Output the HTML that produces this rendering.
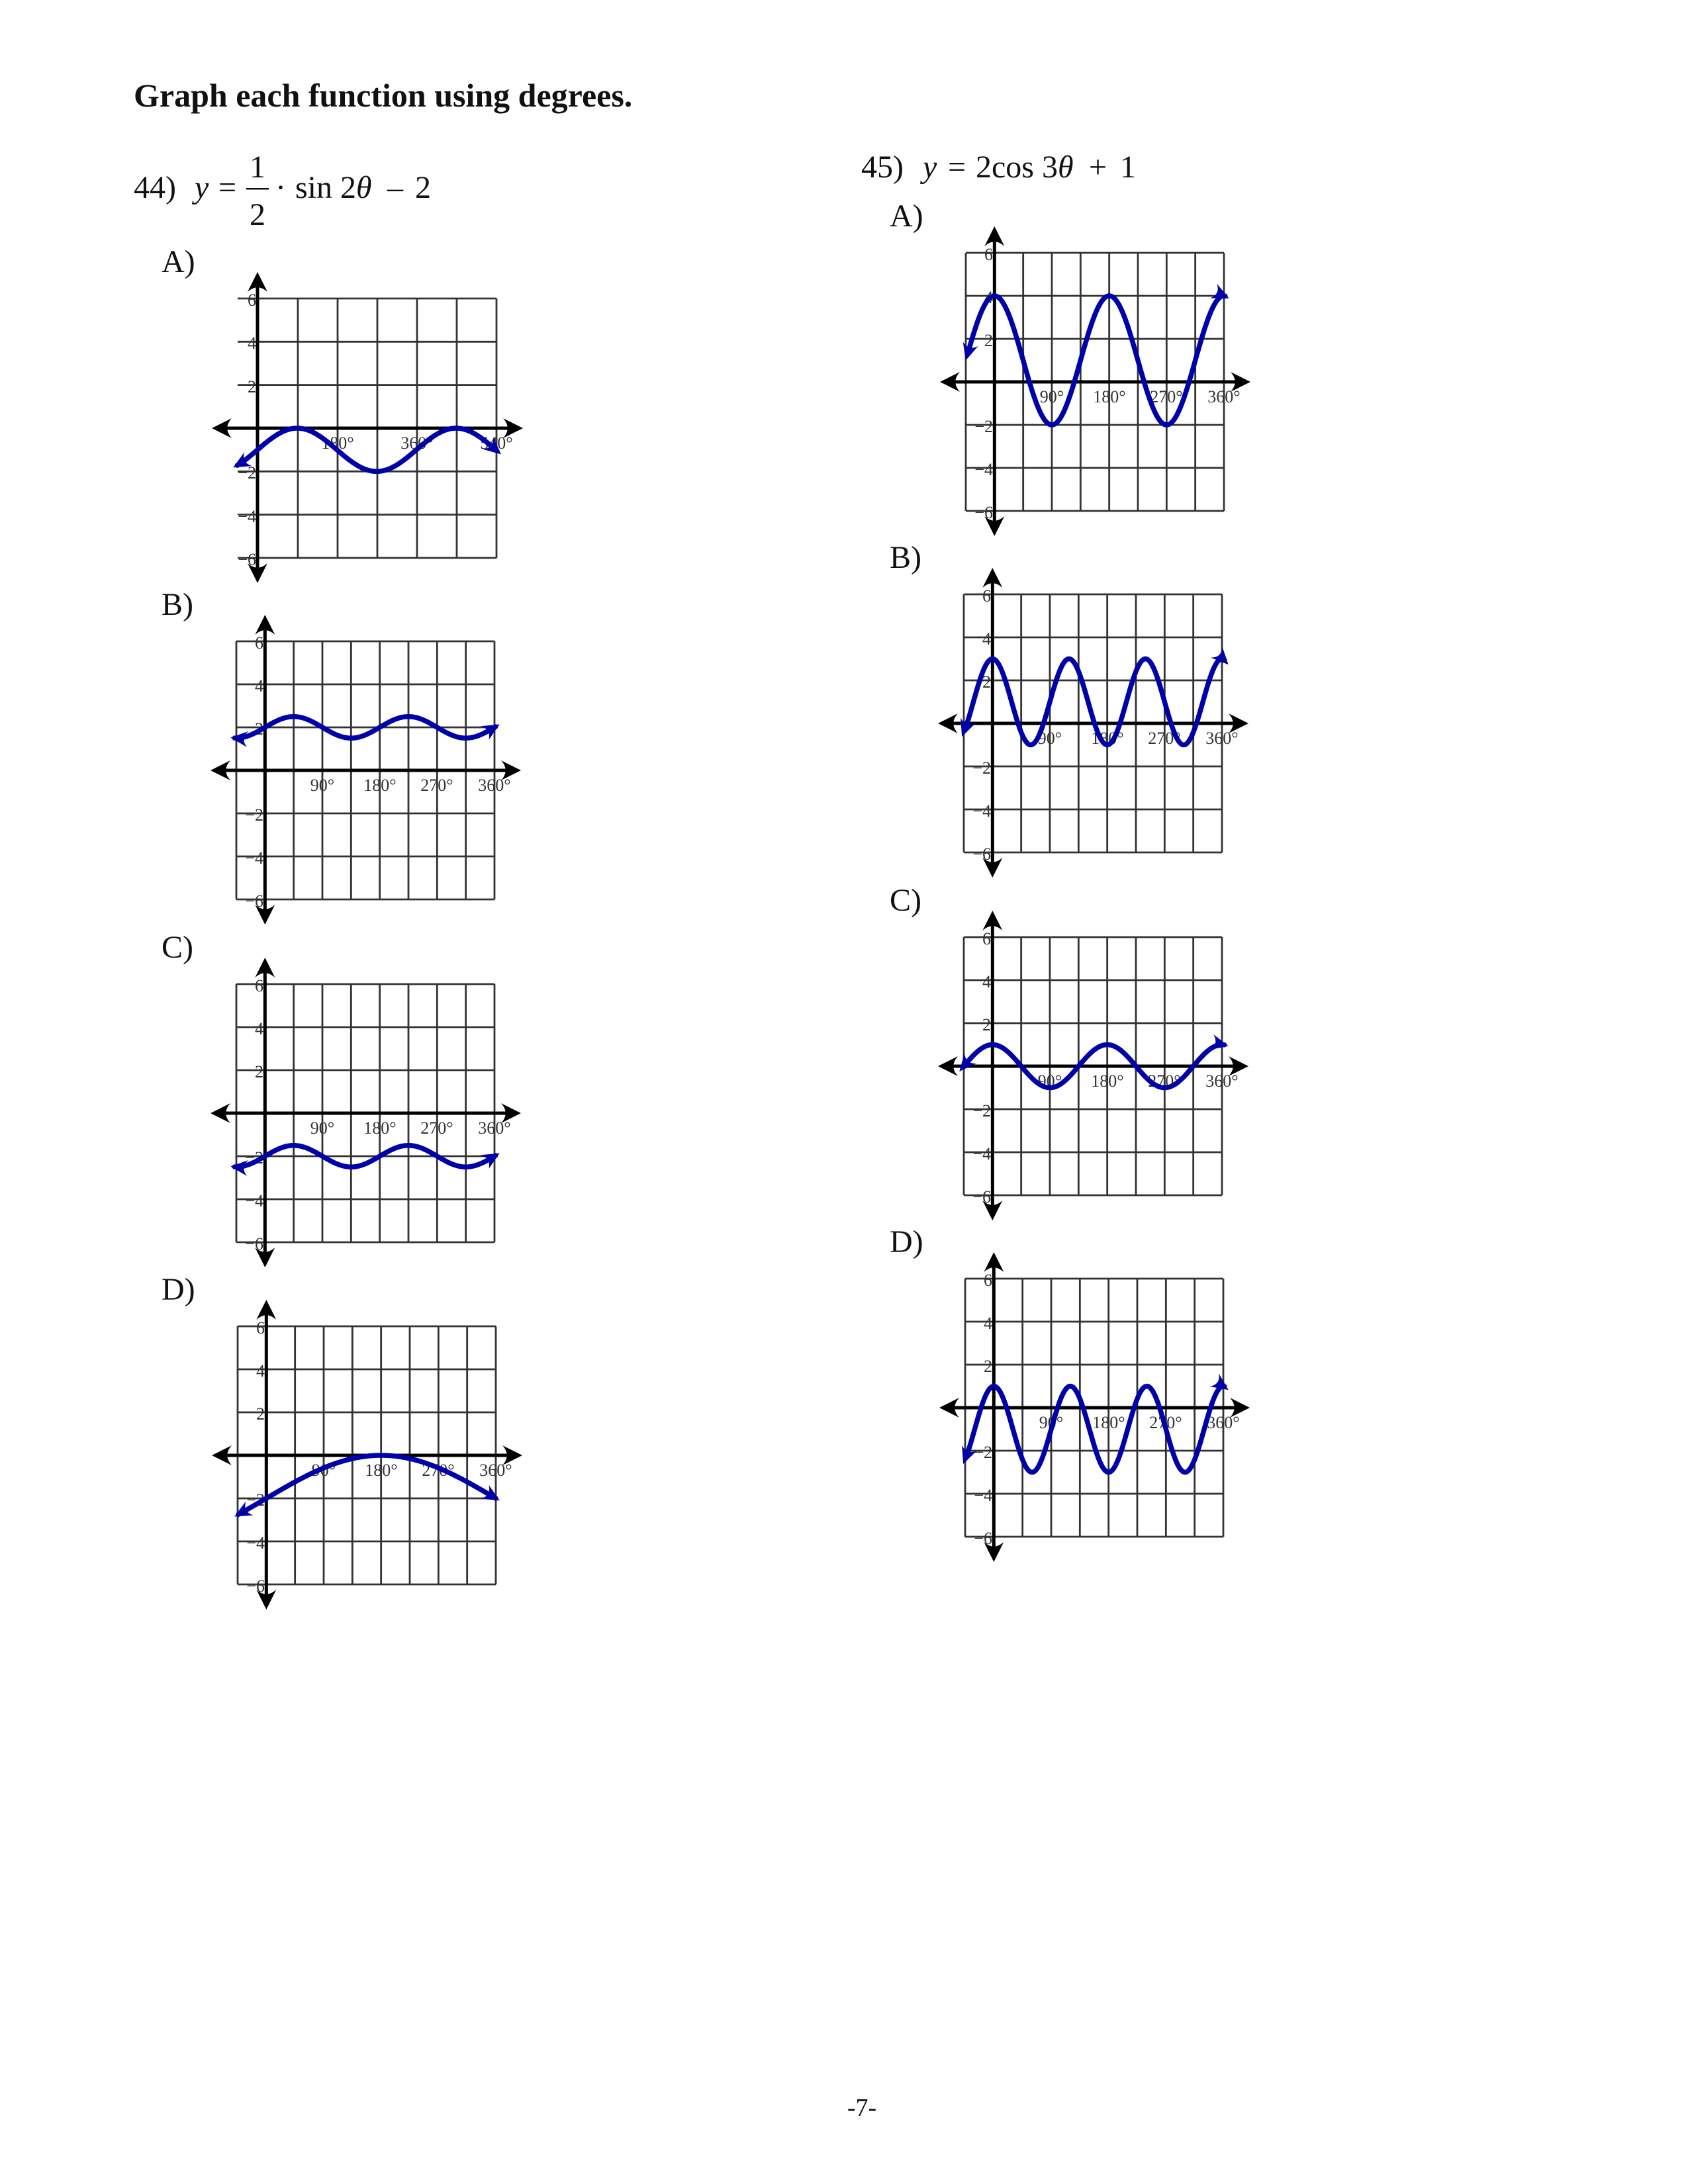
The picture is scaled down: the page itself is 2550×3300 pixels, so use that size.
<!DOCTYPE html>
<html><head><meta charset="utf-8">
<style>
html,body{margin:0;padding:0;background:#fff;}
svg{display:block;}
text{font-family:"Liberation Serif",serif;}
.yl{font-size:26px;fill:#333;text-anchor:end;}
.xl{font-size:26px;fill:#333;text-anchor:middle;}
.m{font-size:48px;fill:#111;}
</style></head>
<body>
<svg id="s" xmlns="http://www.w3.org/2000/svg" width="2550" height="3300" viewBox="0 0 2550 3300">
<rect width="2550" height="3300" fill="#fff"/>
<text x="202" y="161" style="font-size:50px;font-weight:bold" fill="#111">Graph each function using degrees.</text>

<!-- 44 -->
<text class="m" x="202" y="299">44)</text>
<text class="m" x="294" y="299" font-style="italic">y</text>
<text class="m" x="330" y="299">=</text>
<text class="m" x="377" y="268">1</text>
<rect x="372" y="284" width="34" height="2.5" fill="#111"/>
<text class="m" x="377" y="340">2</text>
<text class="m" x="416" y="299">·</text>
<text class="m" x="446" y="299">sin 2<tspan font-style="italic">θ</tspan></text>
<text class="m" x="585" y="299">–</text>
<text class="m" x="627" y="299">2</text>

<text class="m" x="244" y="411">A)</text>
<text class="m" x="244" y="929">B)</text>
<text class="m" x="244" y="1447">C)</text>
<text class="m" x="244" y="1964">D)</text>

<!-- 45 -->
<text class="m" x="1301" y="268">45)</text>
<text class="m" x="1394" y="268" font-style="italic">y</text>
<text class="m" x="1432" y="268">=</text>
<text class="m" x="1474" y="268">2cos 3<tspan font-style="italic">θ</tspan></text>
<text class="m" x="1645" y="268">+</text>
<text class="m" x="1692" y="268">1</text>

<text class="m" x="1344" y="342">A)</text>
<text class="m" x="1344" y="858">B)</text>
<text class="m" x="1344" y="1376">C)</text>
<text class="m" x="1344" y="1892">D)</text>

<text x="1302" y="3197" style="font-size:38px" text-anchor="middle" fill="#111">-7-</text>

<!-- graphs -->
<g id="g0" transform="translate(359,451)">
<text class="yl" x="28" y="11">6</text><text class="yl" x="28" y="76">4</text><text class="yl" x="28" y="142">2</text>
<text class="yl" x="28" y="272">−2</text><text class="yl" x="28" y="338">−4</text><text class="yl" x="28" y="403">−6</text>
<text class="xl" x="151" y="227">180°</text><text class="xl" x="271" y="227">360°</text><text class="xl" x="391" y="227">540°</text>
</g>
<g id="g1" transform="translate(357,969)">
<text class="yl" x="41" y="11">6</text><text class="yl" x="41" y="76">4</text><text class="yl" x="41" y="141">2</text>
<text class="yl" x="41" y="271">−2</text><text class="yl" x="41" y="336">−4</text><text class="yl" x="41" y="401">−6</text>
<text class="xl" x="130" y="226">90°</text><text class="xl" x="217" y="226">180°</text><text class="xl" x="303" y="226">270°</text><text class="xl" x="390" y="226">360°</text>
</g>
<g id="g2" transform="translate(357,1487)">
<text class="yl" x="41" y="11">6</text><text class="yl" x="41" y="76">4</text><text class="yl" x="41" y="141">2</text>
<text class="yl" x="41" y="271">−2</text><text class="yl" x="41" y="336">−4</text><text class="yl" x="41" y="401">−6</text>
<text class="xl" x="130" y="226">90°</text><text class="xl" x="217" y="226">180°</text><text class="xl" x="303" y="226">270°</text><text class="xl" x="390" y="226">360°</text>
</g>
<g id="g3" transform="translate(359,2004)">
<text class="yl" x="41" y="11">6</text><text class="yl" x="41" y="76">4</text><text class="yl" x="41" y="141">2</text>
<text class="yl" x="41" y="271">−2</text><text class="yl" x="41" y="336">−4</text><text class="yl" x="41" y="401">−6</text>
<text class="xl" x="130" y="226">90°</text><text class="xl" x="217" y="226">180°</text><text class="xl" x="303" y="226">270°</text><text class="xl" x="390" y="226">360°</text>
</g>
<g id="g4" transform="translate(1459,382)">
<text class="yl" x="41" y="11">6</text><text class="yl" x="41" y="76">4</text><text class="yl" x="41" y="141">2</text>
<text class="yl" x="41" y="271">−2</text><text class="yl" x="41" y="336">−4</text><text class="yl" x="41" y="401">−6</text>
<text class="xl" x="130" y="226">90°</text><text class="xl" x="217" y="226">180°</text><text class="xl" x="303" y="226">270°</text><text class="xl" x="390" y="226">360°</text>
</g>
<g id="g5" transform="translate(1456,898)">
<text class="yl" x="41" y="11">6</text><text class="yl" x="41" y="76">4</text><text class="yl" x="41" y="141">2</text>
<text class="yl" x="41" y="271">−2</text><text class="yl" x="41" y="336">−4</text><text class="yl" x="41" y="401">−6</text>
<text class="xl" x="130" y="226">90°</text><text class="xl" x="217" y="226">180°</text><text class="xl" x="303" y="226">270°</text><text class="xl" x="390" y="226">360°</text>
</g>
<g id="g6" transform="translate(1456,1416)">
<text class="yl" x="41" y="11">6</text><text class="yl" x="41" y="76">4</text><text class="yl" x="41" y="141">2</text>
<text class="yl" x="41" y="271">−2</text><text class="yl" x="41" y="336">−4</text><text class="yl" x="41" y="401">−6</text>
<text class="xl" x="130" y="226">90°</text><text class="xl" x="217" y="226">180°</text><text class="xl" x="303" y="226">270°</text><text class="xl" x="390" y="226">360°</text>
</g>
<g id="g7" transform="translate(1458,1932)">
<text class="yl" x="41" y="11">6</text><text class="yl" x="41" y="76">4</text><text class="yl" x="41" y="141">2</text>
<text class="yl" x="41" y="271">−2</text><text class="yl" x="41" y="336">−4</text><text class="yl" x="41" y="401">−6</text>
<text class="xl" x="130" y="226">90°</text><text class="xl" x="217" y="226">180°</text><text class="xl" x="303" y="226">270°</text><text class="xl" x="390" y="226">360°</text>
</g>
</svg>
<script>
(function(){
var NS="http://www.w3.org/2000/svg",R=Math.PI/180;
function el(p,n,a){var e=document.createElementNS(NS,n);for(var k in a)e.setAttribute(k,a[k]);p.appendChild(e);return e;}
function head(g,x,y,ang,L,W,col){
  var c=Math.cos(ang),s=Math.sin(ang);
  function P(u,v){return (x+u*c-v*s).toFixed(2)+","+(y+u*s+v*c).toFixed(2);}
  el(g,"path",{d:"M"+P(0,0)+" L"+P(-L,-W)+" Q"+P(-L*0.55,0)+" "+P(-L,W)+" Z",fill:col});
}
var c9=390/9;
function std(id,f,t0,t1){
  var v=[];for(var i=0;i<=9;i++)v.push(i*c9);
  return {id:id,vx:v,hx0:0,hx1:390,rh:65,ax:c9,ppd:c9/45,f:f,t0:t0,t1:t1};
}
var G=[
 {id:"g0",vx:[30,91,151,211,271,331,391],hx0:0,hx1:391,rh:65.33,ax:30,ppd:60/90,f:function(t){return Math.sin(t*R)-1;},t0:-55,t1:552},
 std("g1",function(t){return 0.5*Math.sin(2*t*R)+2;},-54,368),
 std("g2",function(t){return 0.5*Math.sin(2*t*R)-2;},-54,368),
 std("g3",function(t){return 2*Math.sin(t/2*R)-2;},-50,366),
 std("g4",function(t){return 3*Math.cos(2*t*R)+1;},-45,368),
 std("g5",function(t){return 2*Math.cos(3*t*R)+1;},-48,370),
 std("g6",function(t){return Math.cos(2*t*R);},-52,370),
 std("g7",function(t){return 2*Math.cos(3*t*R)-1;},-48,368)
];
G.forEach(function(s){
  var g=document.getElementById(s.id),H=s.rh*6,ay=s.rh*3;
  for(var j=0;j<=6;j++){var y=j*s.rh;el(g,"line",{x1:s.hx0,y1:y,x2:s.hx1,y2:y,stroke:"#333","stroke-width":2.8});}
  s.vx.forEach(function(x){el(g,"line",{x1:x,y1:0,x2:x,y2:H,stroke:"#333","stroke-width":2.8});});
  el(g,"line",{x1:s.ax,y1:-30,x2:s.ax,y2:H+28,stroke:"#000","stroke-width":5});
  el(g,"line",{x1:-30,y1:ay,x2:s.hx1+30,y2:ay,stroke:"#000","stroke-width":5});
  head(g,s.ax,-40,-Math.PI/2,30,15,"#000");
  head(g,s.ax,H+38,Math.PI/2,30,15,"#000");
  head(g,-39,ay,Math.PI,30,15,"#000");
  head(g,s.hx1+40,ay,0,30,15,"#000");
  var u=s.rh/2;
  function X(t){return s.ax+t*s.ppd;}
  function Y(t){return ay-s.f(t)*u;}
  var d="",n=400,pts=[];
  for(var i=0;i<=n;i++){var t=s.t0+(s.t1-s.t0)*i/n;pts.push([X(t),Y(t)]);}
  var a=6,b=n-6;
  for(var i=a;i<=b;i++)d+=(i==a?"M":"L")+pts[i][0].toFixed(2)+","+pts[i][1].toFixed(2)+" ";
  el(g,"path",{d:d,fill:"none",stroke:"#0000a8","stroke-width":7.5,"stroke-linecap":"round","stroke-linejoin":"round"});
  var p0=pts[0],p1=pts[8];
  head(g,p0[0],p0[1],Math.atan2(p0[1]-p1[1],p0[0]-p1[0]),26,12,"#0000a8");
  var q0=pts[n],q1=pts[n-8];
  head(g,q0[0],q0[1],Math.atan2(q0[1]-q1[1],q0[0]-q1[0]),26,12,"#0000a8");
});
})();
</script>
</body></html>
